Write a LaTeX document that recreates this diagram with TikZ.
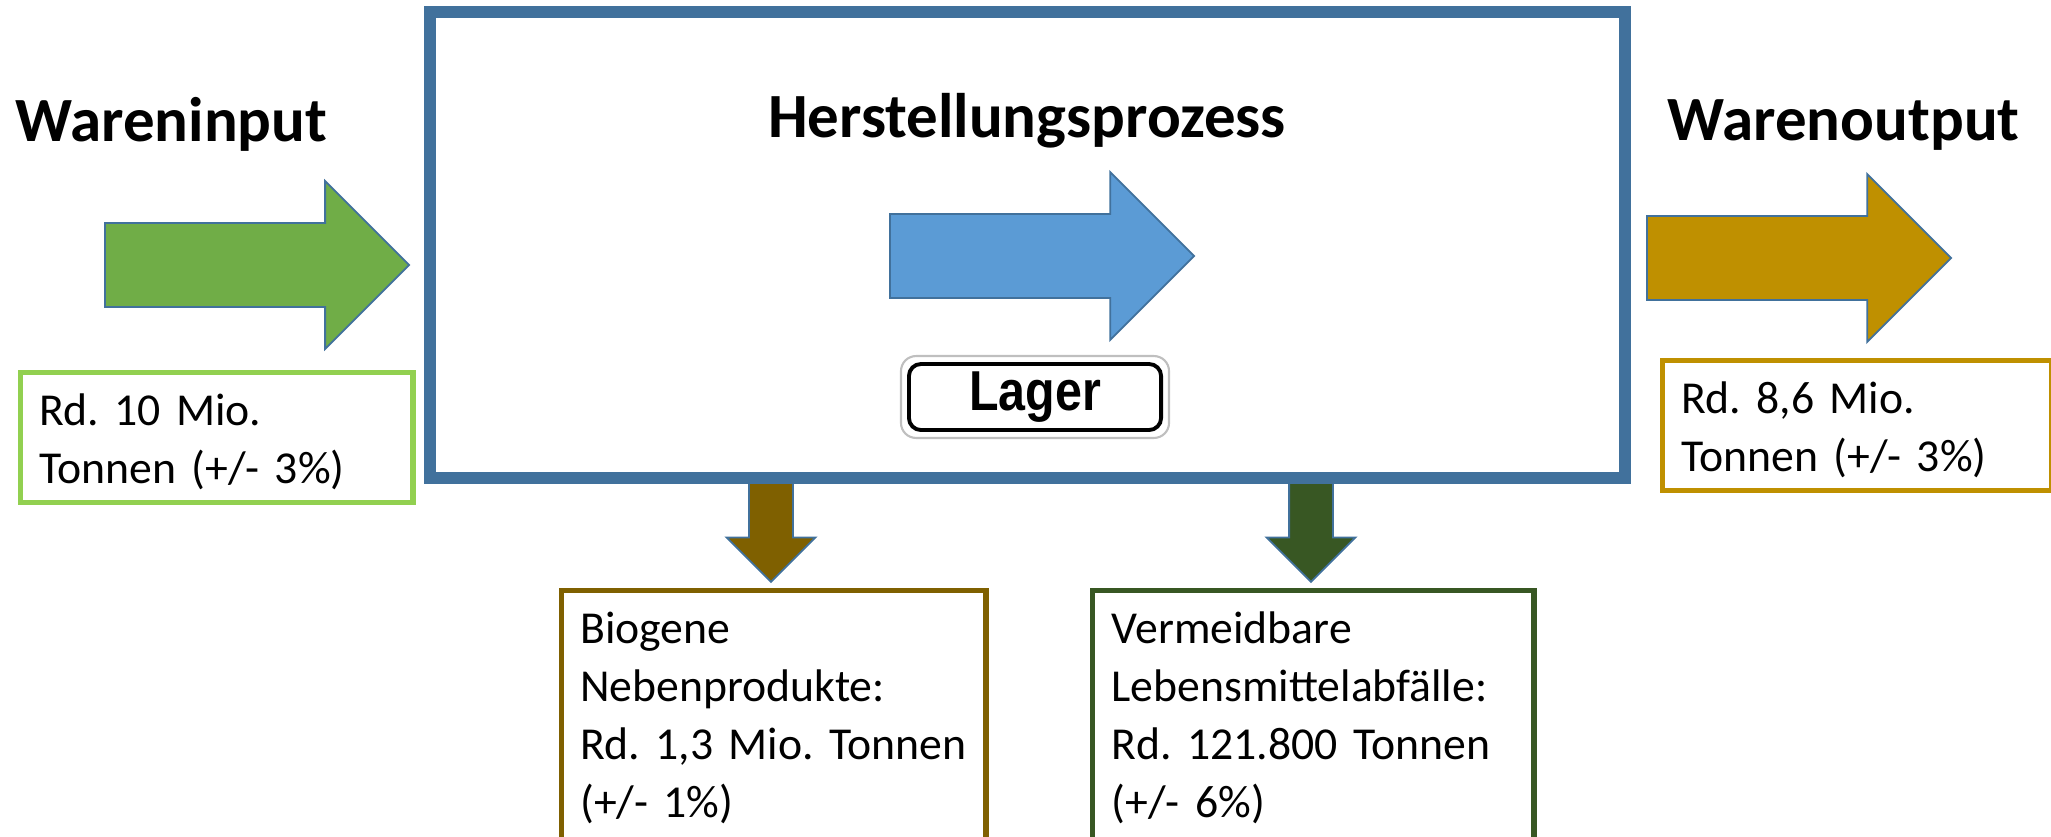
\documentclass[tikz,border=0pt]{standalone}
\usepackage{fontspec}
\usepackage{graphicx}
\setmainfont{Carlito}
\newfontfamily\signfont{Liberation Sans}
\usetikzlibrary{shapes.arrows,calc}
\frenchspacing
\definecolor{frameblue}{HTML}{41719C}
\definecolor{ingreen}{HTML}{70AD47}
\definecolor{inrim}{HTML}{92D050}
\definecolor{flowblue}{HTML}{5B9BD5}
\definecolor{outgold}{HTML}{BF9000}
\definecolor{sidebrown}{HTML}{7F6000}
\definecolor{wastegreen}{HTML}{385723}

\tikzset{
  flowarrow/.style={single arrow, draw=frameblue, line width=0.5pt, inner xsep=0pt, inner ysep=0.41cm,
    single arrow head extend=0.42cm, minimum height=3.04cm, anchor=tail},
  droparrow/.style={single arrow, draw=frameblue, line width=0.5pt, inner xsep=0pt, inner ysep=0.21cm,
    single arrow head extend=0.225cm, minimum height=1.05cm, anchor=tail, rotate=-90},
  heading/.style={font=\bfseries\fontsize{17.9}{20}\selectfont, inner sep=0pt, anchor=base west},
  amountbox/.style={draw, line width=1.5pt, text width=#1, align=left,
    inner xsep=0.19cm, inner ysep=0.125cm, anchor=north west,
    font=\fontsize{13}{16.5}\selectfont}
}

\begin{document}
\begin{tikzpicture}[x=0.01cm,y=-0.01cm]
  \useasboundingbox (0,0) rectangle (2051,836);

  % Arrows out of the bottom (under the frame)
  \node[droparrow, fill=sidebrown] (bydrop) at (771,476) {};
  \node[droparrow, fill=wastegreen] (wastedrop) at (1311,476) {};

  % Process frame
  \node[draw=frameblue, line width=3.4pt, minimum width=11.95cm, minimum height=4.66cm] (process) at (1027.5,245) {};

  % Headings
  \node[heading] (inlabel) at (15,141) {Wareninput};
  \node[heading, anchor=base] (processlabel) at (1027,137) {Herstellungsprozess};
  \node[heading] (outlabel) at (1667,140) {Warenoutput};

  % Flow arrows
  \node[flowarrow, fill=ingreen] (inarrow) at (104,265) {};
  \node[flowarrow, fill=flowblue] (processarrow) at (889,256) {};
  \node[flowarrow, fill=outgold] (outarrow) at (1646,258) {};

  % Lager sign
  \node[draw, line width=1.1pt, rounded corners=0.12cm, minimum width=2.52cm, minimum height=0.66cm,
    inner sep=0pt, font=\signfont\bfseries\fontsize{16}{16}\selectfont] (lager) at (1035,397) {\scalebox{0.86}[1]{Lager}};
  \draw[black!25, line width=0.6pt, rounded corners=0.15cm]
    ($(lager.south west)+(-6,6)$) rectangle ($(lager.north east)+(6,-6)$);

  % Amounts
  \node[amountbox=3.545cm, draw=inrim] (inamount) at (17.5,370) {\strut Rd. 10 Mio.\\ Tonnen (+/- 3\%)};
  \node[amountbox=3.515cm, draw=outgold] (outamount) at (1659.5,357.5) {\strut Rd. 8,6 Mio.\\ Tonnen (+/- 3\%)};
  \node[amountbox=3.865cm, draw=sidebrown] (byamount) at (558.5,588) {\strut Biogene\\ Nebenprodukte:\\ \mbox{Rd. 1,3 Mio. Tonnen}\\ (+/- 1\%)\rule[-1cm]{0pt}{0pt}};
  \node[amountbox=4.03cm, draw=wastegreen] (wasteamount) at (1090,588) {\strut Vermeidbare\\ \mbox{Lebensmittelabfälle:}\\ Rd. 121.800 Tonnen\\ (+/- 6\%)\rule[-1cm]{0pt}{0pt}};
\end{tikzpicture}
\end{document}
